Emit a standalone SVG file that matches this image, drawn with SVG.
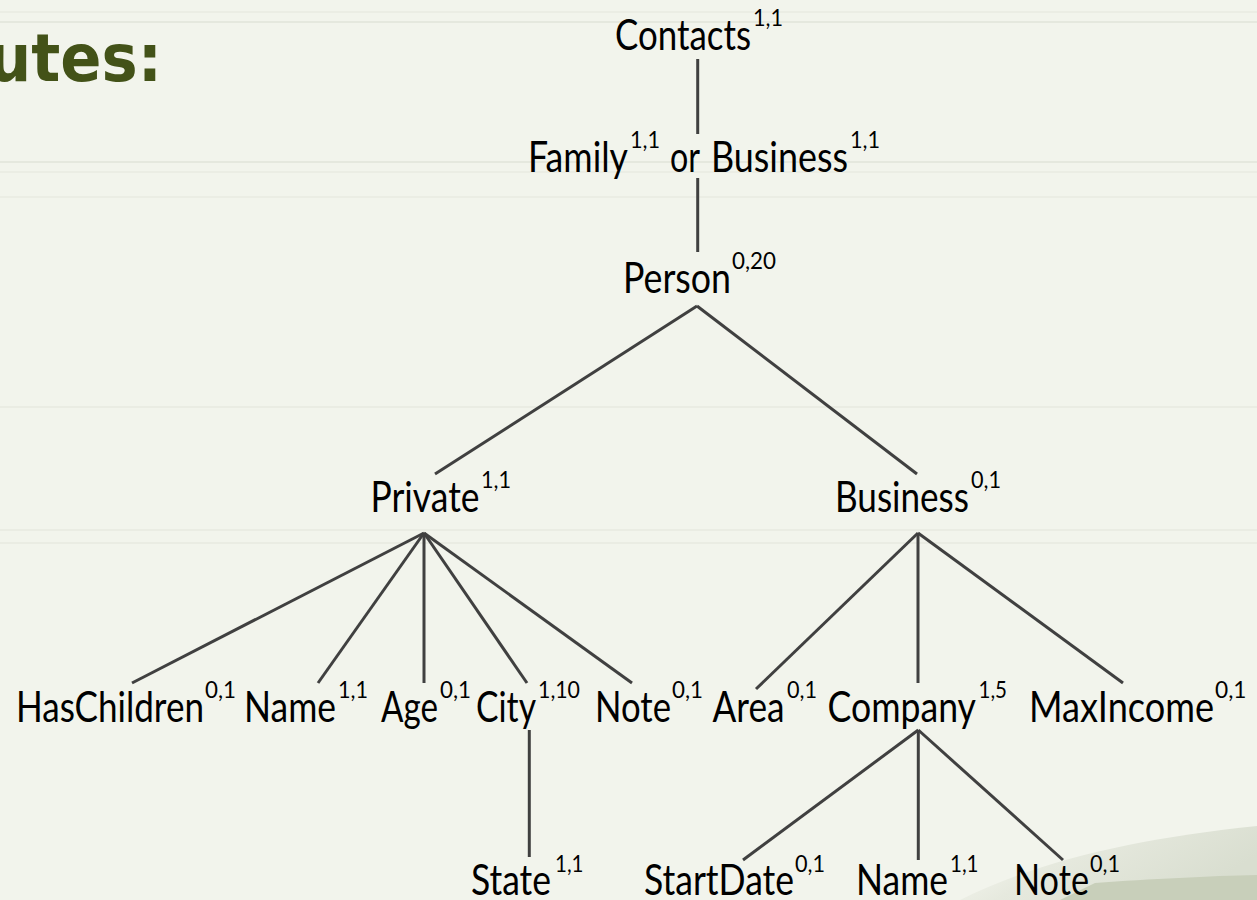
<svg xmlns="http://www.w3.org/2000/svg" width="1257" height="900" viewBox="0 0 1257 900">
  <defs>
    <style>
      .t { font-family: Lato, "Open Sans", "Liberation Sans", sans-serif; font-size: 42px; fill: #000; }
      .s { font-family: Lato, "Open Sans", "Liberation Sans", sans-serif; font-size: 23px; fill: #000; }
      .title { font-family: "DejaVu Sans", Verdana, sans-serif; font-weight: bold; font-size: 66px; fill: #435218; }
      .edge { stroke: #404040; stroke-width: 3; stroke-linecap: butt; fill: none; }
      .bg { stroke: #e5e8de; stroke-width: 2; }
    </style>
    <linearGradient id="swoosh" x1="0" y1="0" x2="1" y2="0.4">
      <stop offset="0" stop-color="#f2f4ec" stop-opacity="0"/>
      <stop offset="0.45" stop-color="#e6e9de"/>
      <stop offset="1" stop-color="#d9ded0"/>
    </linearGradient>
  </defs>
  <rect width="1257" height="900" fill="#f2f4ec"/>
  <g id="background">
    <line class="bg" x1="0" y1="12" x2="1257" y2="12" opacity="0.5"/>
    <line class="bg" x1="0" y1="22" x2="1257" y2="22"/>
    <line class="bg" x1="0" y1="162" x2="1257" y2="162"/>
    <line class="bg" x1="0" y1="172" x2="1257" y2="172" opacity="0.5"/>
    <line class="bg" x1="0" y1="197" x2="1257" y2="197" opacity="0.5"/>
    <line class="bg" x1="0" y1="407" x2="1257" y2="407" opacity="0.6"/>
    <line class="bg" x1="0" y1="530" x2="1257" y2="530" opacity="0.6"/>
    <line class="bg" x1="0" y1="543" x2="1257" y2="543" opacity="0.6"/>
    <path d="M960,900 C1040,860 1140,838 1257,826 L1257,900 Z" fill="url(#swoosh)"/>
    <path d="M1060,900 L1095,883 C1150,879 1210,876 1257,875 L1257,900 Z" fill="#c8cfba"/>
  </g>
  <text id="title" class="title" x="-12" y="81" textLength="174" lengthAdjust="spacingAndGlyphs">utes:</text>

  <g id="connectors">
    <line class="edge" x1="697.7" y1="59" x2="697.7" y2="134"/>
    <line class="edge" x1="697.7" y1="178" x2="697.7" y2="252"/>
    <line class="edge" x1="697" y1="306" x2="435" y2="474"/>
    <line class="edge" x1="697" y1="306" x2="917" y2="474"/>
    <line class="edge" x1="424" y1="533" x2="132" y2="683"/>
    <line class="edge" x1="424" y1="533" x2="318" y2="683"/>
    <line class="edge" x1="424" y1="533" x2="424" y2="683"/>
    <line class="edge" x1="424" y1="533" x2="527" y2="683"/>
    <line class="edge" x1="424" y1="533" x2="632" y2="683"/>
    <line class="edge" x1="918" y1="533" x2="756" y2="689"/>
    <line class="edge" x1="918" y1="533" x2="918" y2="683"/>
    <line class="edge" x1="918" y1="533" x2="1123" y2="683"/>
    <line class="edge" x1="529.3" y1="730" x2="529.3" y2="857"/>
    <line class="edge" x1="918.3" y1="730" x2="743" y2="860"/>
    <line class="edge" x1="918.3" y1="730" x2="918.3" y2="860"/>
    <line class="edge" x1="918.3" y1="730" x2="1063" y2="860"/>
  </g>

  <g id="contacts">
    <text class="t" x="615" y="50" textLength="136" lengthAdjust="spacingAndGlyphs">Contacts</text>
    <text class="s" x="753" y="26" textLength="30" lengthAdjust="spacingAndGlyphs">1,1</text>
  </g>
  <g id="family-or-business">
    <text class="t" x="528" y="172" textLength="100" lengthAdjust="spacingAndGlyphs">Family</text>
    <text class="s" x="630" y="148" textLength="30" lengthAdjust="spacingAndGlyphs">1,1</text>
    <text class="t" x="670" y="172" textLength="30" lengthAdjust="spacingAndGlyphs">or</text>
    <text class="t" x="711" y="172" textLength="137" lengthAdjust="spacingAndGlyphs">Business</text>
    <text class="s" x="850" y="148" textLength="30" lengthAdjust="spacingAndGlyphs">1,1</text>
  </g>
  <g id="person">
    <text class="t" x="623" y="293" textLength="108" lengthAdjust="spacingAndGlyphs">Person</text>
    <text class="s" x="732" y="269" textLength="44" lengthAdjust="spacingAndGlyphs">0,20</text>
  </g>
  <g id="private">
    <text class="t" x="370.5" y="512" textLength="109" lengthAdjust="spacingAndGlyphs">Private</text>
    <text class="s" x="481" y="488" textLength="30" lengthAdjust="spacingAndGlyphs">1,1</text>
  </g>
  <g id="business">
    <text class="t" x="835" y="512" textLength="134" lengthAdjust="spacingAndGlyphs">Business</text>
    <text class="s" x="971" y="488" textLength="30" lengthAdjust="spacingAndGlyphs">0,1</text>
  </g>
  <g id="haschildren">
    <text class="t" x="16" y="722" textLength="188" lengthAdjust="spacingAndGlyphs">HasChildren</text>
    <text class="s" x="205" y="698" textLength="31" lengthAdjust="spacingAndGlyphs">0,1</text>
  </g>
  <g id="name-private">
    <text class="t" x="244" y="722" textLength="92" lengthAdjust="spacingAndGlyphs">Name</text>
    <text class="s" x="338" y="698" textLength="30" lengthAdjust="spacingAndGlyphs">1,1</text>
  </g>
  <g id="age">
    <text class="t" x="381" y="722" textLength="57" lengthAdjust="spacingAndGlyphs">Age</text>
    <text class="s" x="440" y="698" textLength="31" lengthAdjust="spacingAndGlyphs">0,1</text>
  </g>
  <g id="city">
    <text class="t" x="476" y="722" textLength="60" lengthAdjust="spacingAndGlyphs">City</text>
    <text class="s" x="538" y="698" textLength="42" lengthAdjust="spacingAndGlyphs">1,10</text>
  </g>
  <g id="note-private">
    <text class="t" x="595" y="722" textLength="76" lengthAdjust="spacingAndGlyphs">Note</text>
    <text class="s" x="672" y="698" textLength="31" lengthAdjust="spacingAndGlyphs">0,1</text>
  </g>
  <g id="area">
    <text class="t" x="712.5" y="722" textLength="72" lengthAdjust="spacingAndGlyphs">Area</text>
    <text class="s" x="787" y="698" textLength="30" lengthAdjust="spacingAndGlyphs">0,1</text>
  </g>
  <g id="company">
    <text class="t" x="827.5" y="722" textLength="148.5" lengthAdjust="spacingAndGlyphs">Company</text>
    <text class="s" x="978.5" y="698" textLength="28.5" lengthAdjust="spacingAndGlyphs">1,5</text>
  </g>
  <g id="maxincome">
    <text class="t" x="1029" y="722" textLength="185" lengthAdjust="spacingAndGlyphs">MaxIncome</text>
    <text class="s" x="1215" y="698" textLength="31.5" lengthAdjust="spacingAndGlyphs">0,1</text>
  </g>
  <g id="state">
    <text class="t" x="471" y="895" textLength="80" lengthAdjust="spacingAndGlyphs">State</text>
    <text class="s" x="555" y="872" textLength="28.5" lengthAdjust="spacingAndGlyphs">1,1</text>
  </g>
  <g id="startdate">
    <text class="t" x="644" y="895" textLength="150" lengthAdjust="spacingAndGlyphs">StartDate</text>
    <text class="s" x="795" y="872" textLength="30" lengthAdjust="spacingAndGlyphs">0,1</text>
  </g>
  <g id="name-company">
    <text class="t" x="856" y="895" textLength="92" lengthAdjust="spacingAndGlyphs">Name</text>
    <text class="s" x="950" y="872" textLength="28.5" lengthAdjust="spacingAndGlyphs">1,1</text>
  </g>
  <g id="note-company">
    <text class="t" x="1014" y="895" textLength="75" lengthAdjust="spacingAndGlyphs">Note</text>
    <text class="s" x="1090" y="872" textLength="30" lengthAdjust="spacingAndGlyphs">0,1</text>
  </g>
</svg>
